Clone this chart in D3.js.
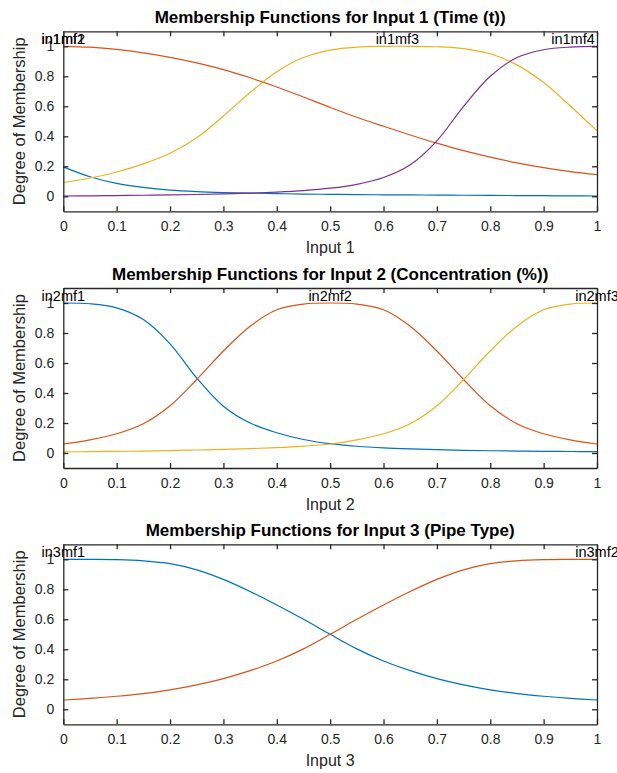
<!DOCTYPE html>
<html>
<head>
<meta charset="utf-8">
<script src="https://cdn.jsdelivr.net/npm/d3@7"></script>
<style>
  body { margin: 0; background: #fff; }
  svg { font-family: "Liberation Sans", Arial, sans-serif; }
</style>
</head>
<body>
<div id="viz"></div>
<script>
// sample positions along the input axis
var xs = [0, 0.05, 0.1, 0.15, 0.2, 0.25, 0.3, 0.35, 0.4, 0.45, 0.5,
  0.55, 0.6, 0.65, 0.7, 0.75, 0.8, 0.85, 0.9, 0.95, 1]

// input 1 (time)
var in1mf1 = [0.196, 0.13, 0.086, 0.059, 0.041, 0.031, 0.025, 0.021, 0.018, 0.015, 0.013,
  0.011, 0.01, 0.009, 0.008, 0.007, 0.006, 0.005, 0.004, 0.003, 0.002]
var in1mf2 = [1.0, 0.994, 0.979, 0.956, 0.926, 0.889, 0.844, 0.79, 0.729, 0.662, 0.593,
  0.527, 0.467, 0.409, 0.354, 0.304, 0.261, 0.223, 0.191, 0.165, 0.144]
var in1mf3 = [0.091, 0.122, 0.162, 0.216, 0.287, 0.39, 0.535, 0.692, 0.83, 0.925, 0.975,
  0.995, 1.0, 1.0, 0.997, 0.985, 0.95, 0.876, 0.758, 0.602, 0.436]
var in1mf4 = [0.002, 0.003, 0.005, 0.007, 0.009, 0.012, 0.016, 0.021, 0.028, 0.038, 0.054,
  0.08, 0.125, 0.21, 0.37, 0.6, 0.8, 0.925, 0.977, 0.995, 1.0]

// input 2 (concentration)
var in2mf1 = [1.0, 0.995, 0.968, 0.89, 0.728, 0.5, 0.312, 0.2, 0.135, 0.09, 0.062,
  0.045, 0.034, 0.027, 0.022, 0.018, 0.015, 0.013, 0.011, 0.01, 0.009]
var in2mf2 = [0.06, 0.088, 0.128, 0.195, 0.315, 0.49, 0.68, 0.845, 0.955, 0.993, 1.0,
  0.993, 0.955, 0.845, 0.68, 0.49, 0.315, 0.195, 0.128, 0.088, 0.06]
var in2mf3 = [0.007, 0.009, 0.011, 0.013, 0.016, 0.02, 0.024, 0.029, 0.036, 0.046, 0.06,
  0.088, 0.128, 0.195, 0.315, 0.49, 0.68, 0.845, 0.955, 0.993, 1.0]

// input 3 (pipe type)
var in3mf1 = [1.0, 1.0, 0.998, 0.99, 0.971, 0.93, 0.866, 0.785, 0.695, 0.6, 0.5,
  0.403, 0.322, 0.258, 0.205, 0.163, 0.13, 0.105, 0.087, 0.073, 0.062]
var in3mf2 = [0.062, 0.073, 0.087, 0.105, 0.13, 0.163, 0.205, 0.258, 0.322, 0.403, 0.5,
  0.6, 0.695, 0.785, 0.866, 0.93, 0.971, 0.99, 0.998, 1.0, 1.0]

var titles = ['Membership Functions for Input 1 (Time (t))',
  'Membership Functions for Input 2 (Concentration (%))',
  'Membership Functions for Input 3 (Pipe Type)']
var xLabels = ['Input 1', 'Input 2', 'Input 3']
var mfNames = [['in1mf1', 'in1mf2', 'in1mf3', 'in1mf4'],
  ['in2mf1', 'in2mf2', 'in2mf3'],
  ['in3mf1', 'in3mf2']]
var mfLabelX = [[0, 0, 0.626, 0.955], [0, 0.5, 1], [0, 1]]
var mfSeries = [[in1mf1, in1mf2, in1mf3, in1mf4], [in2mf1, in2mf2, in2mf3], [in3mf1, in3mf2]]
var xTicks = [0, 0.1, 0.2, 0.3, 0.4, 0.5, 0.6, 0.7, 0.8, 0.9, 1]
var yTicks = [0, 0.2, 0.4, 0.6, 0.8, 1]

var colors = ['#0072BD', '#D95319', '#EDB120', '#7E2F8E']

var W = 617, H = 773
var left = 63.3, plotW = 533.7, plotH = 180
var tops = [31.3, 288, 544.3]

var svg = d3.select('#viz').append('svg')
  .attr('width', W).attr('height', H)

var x = d3.scaleLinear().domain([0, 1]).range([0, plotW])
var y = d3.scaleLinear().domain([-0.1, 1.1]).range([plotH, 0])
var fmt = d3.format('~g')

var line = d3.line()
  .x(function(d) { return x(d[0]) })
  .y(function(d) { return y(d[1]) })
  .curve(d3.curveCatmullRom.alpha(0.5))

tops.forEach(function(top, i) {
  var g = svg.append('g').attr('transform', 'translate(' + left + ',' + top + ')')

  // curves
  mfSeries[i].forEach(function(vals, j) {
    g.append('path')
      .datum(xs.map(function(v, k) { return [v, vals[k]] }))
      .attr('d', line)
      .attr('fill', 'none')
      .attr('stroke', colors[j])
      .attr('stroke-width', 1.2)
  })

  // axes, ticks pointing inward
  var bottom = g.append('g').attr('transform', 'translate(0,' + plotH + ')')
    .call(d3.axisBottom(x).tickValues(xTicks).tickFormat(fmt).tickSizeInner(-5).tickSizeOuter(0).tickPadding(10))
  var topAx = g.append('g')
    .call(d3.axisTop(x).tickValues(xTicks).tickFormat('').tickSizeInner(-5).tickSizeOuter(0))
  var leftAx = g.append('g')
    .call(d3.axisLeft(y).tickValues(yTicks).tickFormat(fmt).tickSizeInner(-5).tickSizeOuter(0).tickPadding(9))
  var rightAx = g.append('g').attr('transform', 'translate(' + plotW + ',0)')
    .call(d3.axisRight(y).tickValues(yTicks).tickFormat('').tickSizeInner(-5).tickSizeOuter(0))

  ;[bottom, topAx, leftAx, rightAx].forEach(function(a) {
    a.select('.domain').attr('stroke', '#262626').attr('stroke-width', 1.3)
    a.selectAll('.tick line').attr('stroke', '#262626').attr('stroke-width', 1.3)
    a.selectAll('.tick text').attr('fill', '#262626').style('font-size', '14px')
  })

  // mf names above the peaks
  mfNames[i].forEach(function(name, j) {
    g.append('text')
      .attr('x', x(mfLabelX[i][j]))
      .attr('y', y(1) - 2)
      .attr('text-anchor', 'middle')
      .style('font-size', '14.5px')
      .attr('fill', '#000')
      .text(name)
  })

  // title
  g.append('text')
    .attr('x', plotW / 2)
    .attr('y', -8.5)
    .attr('text-anchor', 'middle')
    .style('font-size', '17px')
    .style('font-weight', 'bold')
    .attr('fill', '#000')
    .text(titles[i])

  // x label
  g.append('text')
    .attr('x', plotW / 2)
    .attr('y', plotH + 42)
    .attr('text-anchor', 'middle')
    .style('font-size', '16px')
    .attr('fill', '#262626')
    .text(xLabels[i])

  // y label
  g.append('text')
    .attr('transform', 'translate(' + (-38) + ',' + (plotH / 2) + ')rotate(-90)')
    .attr('text-anchor', 'middle')
    .style('font-size', '16.5px')
    .attr('fill', '#262626')
    .text('Degree of Membership')
})
</script>
</body>
</html>
